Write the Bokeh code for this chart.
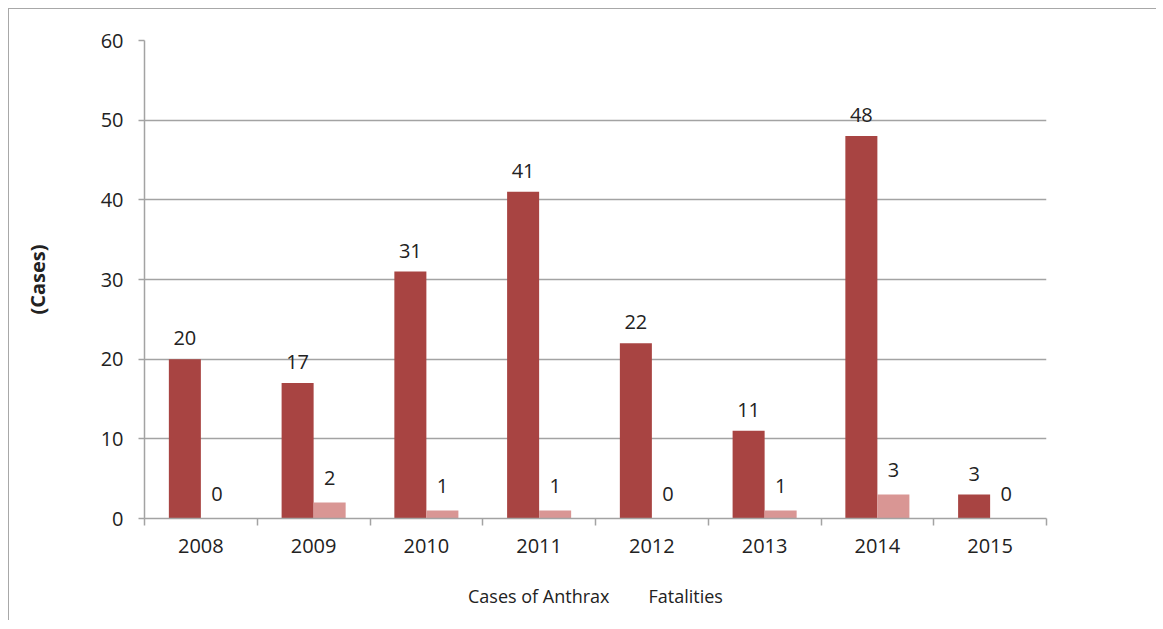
from bokeh.plotting import figure
from bokeh.layouts import column
from bokeh.models import (ColumnDataSource, FixedTicker, Range1d, Legend, LegendItem,
                          CDSView, IndexFilter)
from bokeh.core.properties import value
from bokeh.embed import file_html
from bokeh.resources import INLINE

years = ["2008", "2009", "2010", "2011", "2012", "2013", "2014", "2015"]
cases = [20, 17, 31, 41, 22, 11, 48, 3]
fatalities = [0, 2, 1, 1, 0, 1, 3, 0]
y_ticks = [0, 10, 20, 30, 40, 50, 60]
series_names = ["Cases of Anthrax", "Fatalities"]

DARK = "#A84442"
PINK = "#D99694"
GRID = "#A3A3A3"
TXT = "#222222"
FONT = "Open Sans"

n = len(years)
bw = 0.284
centers = [i + 0.5 for i in range(n)]
x_cases = [c - bw / 2 for c in centers]
x_fat = [c + bw / 2 for c in centers]

src = ColumnDataSource(dict(
    xc=x_cases, xf=x_fat, cases=cases, fat=fatalities,
    tc=[str(v) for v in cases], tf=[str(v) for v in fatalities],
))

p = figure(width=1147, height=567, output_backend="svg", toolbar_location=None,
           x_range=Range1d(0, n), y_range=Range1d(0, 60),
           min_border_left=135, min_border_right=110, min_border_top=31, min_border_bottom=58)
p.outline_line_color = None
p.background_fill_color = "white"
p.border_fill_color = "white"

p.vbar(x="xc", top="cases", width=bw, source=src, fill_color=DARK, line_color=None)
p.vbar(x="xf", top="fat", width=bw, source=src, fill_color=PINK, line_color=None)

p.text(x="xc", y="cases", text="tc", source=src, text_align="center", text_baseline="middle",
       y_offset=-21, text_font=value(FONT), text_font_size="20px", text_color=TXT)
p.text(x="xf", y="fat", text="tf", source=src, text_align="center", text_baseline="middle",
       y_offset=-25, text_font=value(FONT), text_font_size="20px", text_color=TXT)

# x axis
xa = p.xaxis[0]
xa.ticker = FixedTicker(ticks=centers, minor_ticks=list(range(n + 1)))
xa.major_label_overrides = {c: y for c, y in zip(centers, years)}
xa.major_tick_in = 0
xa.major_tick_out = 0
xa.minor_tick_in = 0
xa.minor_tick_out = 7
xa.minor_tick_line_color = GRID
xa.minor_tick_line_width = 1.5
xa.axis_line_color = GRID
xa.axis_line_width = 1.5
xa.major_label_standoff = 13
xa.major_label_text_font = FONT
xa.major_label_text_font_size = "20px"
xa.major_label_text_color = TXT

# y axis
ya = p.yaxis[0]
ya.ticker = FixedTicker(ticks=y_ticks, minor_ticks=[])
ya.major_tick_in = 0
ya.major_tick_out = 6
ya.major_tick_line_color = GRID
ya.major_tick_line_width = 1.5
ya.axis_line_color = GRID
ya.axis_line_width = 1.5
ya.major_label_standoff = 15
ya.major_label_text_font = FONT
ya.major_label_text_font_size = "20px"
ya.major_label_text_color = TXT
ya.axis_label = "(Cases)"
ya.axis_label_text_font = FONT
ya.axis_label_text_font_size = "20px"
ya.axis_label_text_font_style = "bold"
ya.axis_label_text_color = TXT
ya.axis_label_standoff = 47

p.xgrid.grid_line_color = None
p.ygrid.grid_line_color = GRID
p.ygrid.grid_line_width = 1.5
p.ygrid.ticker = FixedTicker(ticks=y_ticks)

# legend strip (separate small figure below the chart; its proxy bars are filtered out)
p2 = figure(width=1147, height=44, output_backend="svg", toolbar_location=None,
            x_range=Range1d(0, n), y_range=Range1d(0, 60),
            min_border_left=0, min_border_right=0, min_border_top=0, min_border_bottom=0)
p2.outline_line_color = None
p2.axis.visible = False
p2.grid.visible = False
p2.border_fill_color = "white"
empty_view = CDSView(filter=IndexFilter(indices=[]))
lr1 = p2.vbar(x="xc", top="cases", width=bw, source=src, view=empty_view,
              fill_color=DARK, line_color=None)
lr2 = p2.vbar(x="xf", top="fat", width=bw, source=src, view=CDSView(filter=IndexFilter(indices=[])),
              fill_color=PINK, line_color=None)

lg = Legend(items=[LegendItem(label=series_names[0], renderers=[lr1]),
                   LegendItem(label=series_names[1], renderers=[lr2])])
lg.location = (309, 12)
lg.orientation = "horizontal"
lg.border_line_color = None
lg.background_fill_alpha = 0
lg.padding = 0
lg.margin = 0
lg.spacing = 24
lg.glyph_width = 7
lg.glyph_height = 7
lg.label_standoff = 8
lg.label_text_font = FONT
lg.label_text_font_size = "18px"
lg.label_text_color = TXT
p2.add_layout(lg)

layout = column(p, p2, spacing=0)
layout.styles = {"margin-left": "8px", "margin-top": "8px",
                 "border-left": "1px solid #A8A8A8", "border-top": "1px solid #A8A8A8"}

open("out.html", "w").write(file_html(layout, INLINE))
